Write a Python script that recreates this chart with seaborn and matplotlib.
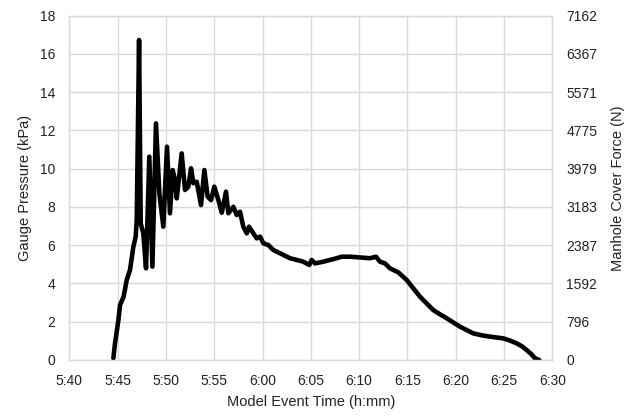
import numpy as np
import pandas as pd
import matplotlib
matplotlib.use("Agg")
import matplotlib.pyplot as plt
import seaborn as sns

minutes = [4.56, 4.73, 5.08, 5.25, 5.62, 5.94, 6.28, 6.63, 6.87, 6.98,
           7.22, 7.39, 7.66, 7.94, 8.28, 8.60, 8.97, 9.32, 9.73, 10.11,
           10.42, 10.70, 10.94, 11.12, 11.63, 11.98, 12.32, 12.60, 12.84, 13.19,
           13.63, 13.98, 14.32, 14.67, 15.01, 15.43, 15.78, 16.22, 16.46, 16.98,
           17.33, 17.67, 18.01, 18.37, 18.60, 19.05, 19.40, 19.74, 20.09, 20.60,
           21.12, 21.81, 22.85, 24.22, 24.84, 25.09, 25.43, 26.30, 27.68, 28.20,
           29.06, 30.09, 31.13, 31.75, 32.16, 32.68, 33.20, 34.06, 34.93, 36.30,
           37.68, 38.40, 39.07, 40.45, 41.82, 42.70, 43.55, 44.93, 45.60, 46.31,
           46.85, 47.35, 47.80, 48.21, 48.65]
pressure = [0.09, 0.87, 2.09, 2.87, 3.31, 4.18, 4.70, 5.92, 6.45, 7.32,
            16.73, 7.14, 6.62, 4.79, 10.63, 4.88, 12.37, 8.71, 6.97, 11.15,
            7.67, 9.93, 9.41, 8.45, 10.80, 8.89, 9.06, 10.02, 9.24, 9.32,
            8.10, 9.93, 8.54, 8.36, 9.06, 8.36, 7.70, 8.80, 7.67, 8.01,
            7.58, 7.75, 6.97, 6.62, 6.97, 6.62, 6.36, 6.45, 6.10, 6.01,
            5.75, 5.58, 5.32, 5.14, 4.97, 5.23, 5.05, 5.14, 5.32, 5.40,
            5.40, 5.36, 5.32, 5.40, 5.14, 5.05, 4.79, 4.58, 4.18, 3.31,
            2.61, 2.38, 2.18, 1.74, 1.39, 1.29, 1.22, 1.13, 1.02, 0.87,
            0.72, 0.52, 0.32, 0.09, 0.0]

time_ticks = [0, 5, 10, 15, 20, 25, 30, 35, 40, 45, 50]
time_labels = ["5:40", "5:45", "5:50", "5:55", "6:00", "6:05",
               "6:10", "6:15", "6:20", "6:25", "6:30"]
pressure_ticks = [0, 2, 4, 6, 8, 10, 12, 14, 16, 18]
force_labels = [0, 796, 1592, 2387, 3183, 3979, 4775, 5571, 6367, 7162]

df = pd.DataFrame({"minutes": minutes, "pressure": pressure})

sns.set_style("white")
plt.rcParams["font.family"] = ["Liberation Sans", "DejaVu Sans"]

fig = plt.figure(figsize=(6.39, 4.18), dpi=100)
ax = fig.add_axes([0.1085, 0.1388, 0.7558, 0.8236])

sns.lineplot(data=df, x="minutes", y="pressure", color="black",
             linewidth=3.3, sort=False, ax=ax)
ax.lines[0].set_solid_joinstyle("round")
ax.lines[0].set_solid_capstyle("round")

grid_col = "#d9d9d9"
ax.set_xlim(0, 50)
ax.set_ylim(0, 18)
ax.set_xticks(time_ticks)
ax.set_xticklabels(time_labels)
ax.set_yticks(pressure_ticks)
ax.grid(True, color=grid_col, linewidth=1.0)
ax.set_axisbelow(True)
for s in ax.spines.values():
    s.set_color(grid_col)
    s.set_linewidth(1.0)
ax.tick_params(length=0, labelsize=10, colors="#222222")
ax.tick_params(axis="y", pad=10)
ax.tick_params(axis="x", pad=10)
ax.set_xlabel("Model Event Time (h:mm)", fontsize=10.5, color="#222222", labelpad=5)
ax.set_ylabel("Gauge Pressure (kPa)", fontsize=10.5, color="#222222", labelpad=6)

ax2 = ax.twinx()
ax2.set_ylim(0, 18)
ax2.set_yticks(pressure_ticks)
ax2.set_yticklabels([str(v) for v in force_labels])
ax2.tick_params(length=0, labelsize=10, colors="#222222", pad=10)
for s in ax2.spines.values():
    s.set_visible(False)
ax2.set_ylabel("Manhole Cover Force (N)", fontsize=10.5, color="#222222", labelpad=10)

fig.savefig("out.png", dpi=100)
